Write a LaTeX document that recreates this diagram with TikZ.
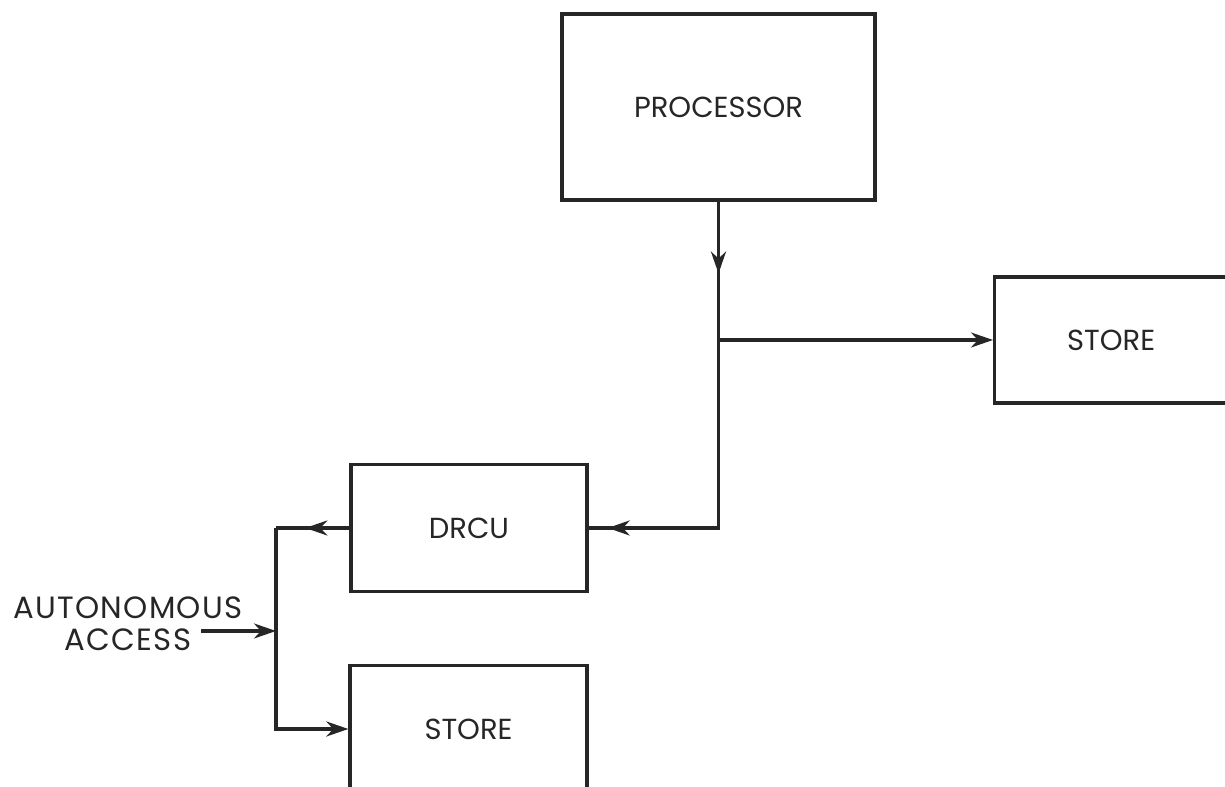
\documentclass[tikz,border=0pt]{standalone}
\usepackage{fontspec}
\setmainfont{Poppins}
\usetikzlibrary{arrows.meta,positioning,calc,decorations.markings}

\begin{document}
\begin{tikzpicture}[
    box/.style={rectangle, draw=black!85, line width=1.9pt, align=center, text=black!85, font=\fontsize{16.5}{19}\selectfont},
    line/.style={line width=1.9pt, draw=black!85},
    arr/.style={line, -{Stealth[length=0.44cm, width=0.3cm, inset=0.14cm]}},
    midarr/.style={line, postaction={decorate}, decoration={markings, mark=at position #1 with {\arrow{Stealth[length=0.44cm, width=0.3cm, inset=0.14cm]}}}}
]
    \useasboundingbox (0,0) rectangle (24.5,15.74);
    \node [box, minimum width=6.26cm, minimum height=3.72cm] (proc) at (14.37,13.6) {PROCESSOR};
    \node [box, minimum width=4.66cm, minimum height=2.52cm, anchor=west] (storeR) at (19.86,8.94) {STORE};
    \node [box, minimum width=4.72cm, minimum height=2.54cm] (drcu) at (9.38,5.18) {DRCU};
    \node [box, minimum width=4.74cm, minimum height=2.54cm] (storeL) at (9.37,1.16) {STORE};
    \node [align=center, text=black!85, font=\fontsize{17.5}{18.5}\selectfont\addfontfeature{LetterSpace=4}] (auto) at (2.56,3.26) {AUTONOMOUS\\ACCESS};

    \coordinate (split) at (proc.south |- storeR.west);
    \coordinate (merge) at (5.52,5.18);
    \coordinate (ain) at (4.02,3.12);

    \draw [midarr=0.52] (proc.south) -- (split);
    \draw [arr] (split) -- (storeR.west);
    \draw [midarr=0.94] (split) |- (drcu.east);
    \draw [midarr=0.6] (drcu.west) -- (merge);
    \draw [arr] (merge) |- (storeL.west);
    \draw [arr] (ain) -- (ain -| merge);
\end{tikzpicture}
\end{document}
